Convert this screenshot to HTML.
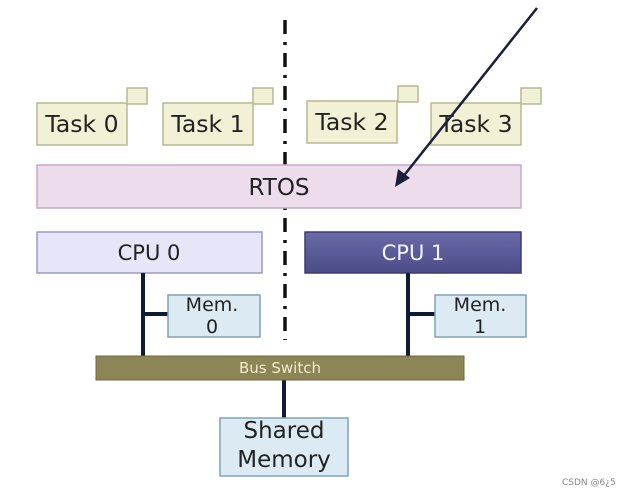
<!DOCTYPE html>
<html><head><style>body{margin:0;background:#fff}svg{display:block}text{font-family:"DejaVu Sans","Liberation Sans",sans-serif}</style></head><body>
<svg width="626" height="494" viewBox="0 0 626 494">
<defs><linearGradient id="cg" x1="0" y1="0" x2="0" y2="1"><stop offset="0" stop-color="#6a6aaa"/><stop offset="1" stop-color="#4c4c88"/></linearGradient></defs>
<line x1="285" y1="20" x2="285" y2="340" stroke="#111" stroke-width="3.5" stroke-dasharray="14,8,3,8"/>
<g stroke="#b8b892" stroke-width="1.5" fill="#f2f1d6">
<rect x="127" y="88" width="20" height="16"/><rect x="37" y="103" width="90" height="42"/>
<rect x="253" y="88" width="20" height="16"/><rect x="163" y="103" width="90" height="42"/>
<rect x="398" y="86" width="20" height="16"/><rect x="307" y="101" width="90" height="42"/>
<rect x="521" y="88" width="20" height="16"/><rect x="431" y="103" width="90" height="42"/>
</g>
<g font-size="23.5" fill="#222" text-anchor="middle">
<text x="82" y="132">Task 0</text><text x="208" y="132">Task 1</text><text x="352" y="130">Task 2</text><text x="476" y="132">Task 3</text>
</g>
<rect x="37" y="165" width="484" height="43" fill="#eddcec" stroke="#c8a8c6" stroke-width="1.5"/>
<text x="279" y="195" font-size="23" fill="#222" text-anchor="middle">RTOS</text>
<rect x="37" y="232" width="225" height="41" fill="#e6e6f8" stroke="#9a9ac8" stroke-width="1.5"/>
<text x="149" y="260" font-size="21" fill="#222" text-anchor="middle">CPU 0</text>
<rect x="305" y="232" width="216" height="41" fill="url(#cg)" stroke="#3c3c70" stroke-width="1.5"/>
<text x="413" y="260" font-size="21" fill="#f4f4ff" text-anchor="middle">CPU 1</text>
<g stroke="#111a33" stroke-width="4">
<line x1="143" y1="273" x2="143" y2="356"/><line x1="143" y1="314" x2="168" y2="314"/>
<line x1="408" y1="273" x2="408" y2="356"/><line x1="408" y1="314" x2="435" y2="314"/>
<line x1="284" y1="380" x2="284" y2="418"/>
</g>
<g fill="#dcebf3" stroke="#7ea4b8" stroke-width="1.5">
<rect x="168" y="295" width="92" height="42"/><rect x="435" y="295" width="91" height="42"/>
<rect x="220" y="418" width="128" height="58"/>
</g>
<g font-size="19" fill="#222" text-anchor="middle">
<text x="212" y="311">Mem.</text><text x="212" y="333">0</text>
<text x="480" y="311">Mem.</text><text x="480" y="333">1</text>
</g>
<g font-size="23" fill="#222" text-anchor="middle"><text x="284" y="438">Shared</text><text x="284" y="467">Memory</text></g>
<rect x="96" y="356" width="368" height="24" fill="#8c8556" stroke="#6e683e"/>
<text x="280" y="373" font-size="15" fill="#f0ead0" text-anchor="middle">Bus Switch</text>
<line x1="537" y1="8" x2="402" y2="178" stroke="#1a1f3a" stroke-width="2.5"/>
<path d="M395 187 L398 169 L410 178 Z" fill="#1a1f3a"/>
<text x="562" y="485" font-size="9" fill="#888">CSDN @6¿5</text>
</svg>
</body></html>
